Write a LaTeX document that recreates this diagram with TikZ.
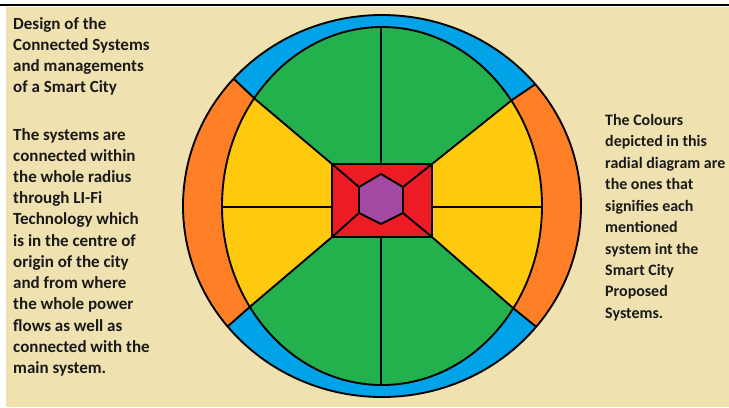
\documentclass[tikz,border=0pt]{standalone}
\usepackage{fontspec}
\setmainfont{Carlito}
\definecolor{bg}{RGB}{239,226,176}
\definecolor{cblue}{RGB}{0,162,232}
\definecolor{corange}{RGB}{255,127,39}
\definecolor{cgreen}{RGB}{34,177,76}
\definecolor{cyellow}{RGB}{255,201,14}
\definecolor{cred}{RGB}{237,28,36}
\definecolor{cpurple}{RGB}{163,73,164}
\definecolor{ctext}{RGB}{25,25,25}
\tikzset{
  edge/.style={draw=black,line width=1.6pt,line join=round},
  txt/.style={anchor=north west,inner sep=0pt,align=left,text=ctext,
    font=\fontsize{14.5}{18.1}\selectfont\bfseries},
  txtr/.style={txt,font=\fontsize{13.6}{18.3}\selectfont\bfseries}
}
\begin{document}
\begin{tikzpicture}[x=0.03cm,y=-0.03cm]
\useasboundingbox (0,0) rectangle (729,407);
\fill[white] (0,0) rectangle (729,407);
\fill[bg] (6,7) rectangle (729,407);
\draw[line width=1.4pt] (0,5) -- (729,5);
% key points
\coordinate (c) at (382,206);
\coordinate (rTL) at (332,164);
\coordinate (rTR) at (432,164);
\coordinate (rBL) at (332,237);
\coordinate (rBR) at (432,237);
\coordinate (iTL) at (255,99);
\coordinate (iBL) at (252,305);
\coordinate (iTR) at (512,100);
\coordinate (iBR) at (513,308);
\coordinate (eTL) at (225,70.5);
\coordinate (eBL) at (214.5,338);
\coordinate (eTR) at (549.5,74.5);
\coordinate (eBR) at (552,339.5);
\coordinate (hT) at (381,174);
\coordinate (hUR) at (403,187);
\coordinate (hLR) at (403,213);
\coordinate (hB) at (381,224);
\coordinate (hLL) at (359,213);
\coordinate (hUL) at (359,187);
% outer ring
\fill[cblue] (c) ellipse [x radius=199, y radius=191];
\begin{scope}
\clip (c) ellipse [x radius=199, y radius=191];
\fill[corange] (iTL) -- (eTL) -- (195,42) -- (100,42) -- (100,380) -- (177,371) -- (eBL) -- (iBL) -- cycle;
\fill[corange] (iTR) -- (eTR) -- (587,49) -- (680,49) -- (680,370) -- (591,371) -- (eBR) -- (iBR) -- cycle;
\end{scope}
% inner disc
\fill[cgreen] (c) ellipse [x radius=160, y radius=179];
\begin{scope}
\clip (c) ellipse [x radius=160, y radius=179];
\fill[cyellow] (rTL) -- (iTL) -- (178,34) -- (100,34) -- (100,380) -- (172,373) -- (iBL) -- (rBL) -- cycle;
\fill[cyellow] (rTR) -- (iTR) -- (592,36) -- (680,36) -- (680,380) -- (594,379) -- (iBR) -- (rBR) -- cycle;
\end{scope}
\fill[cred] (rTL) rectangle (rBR);
\fill[cpurple] (hT) -- (hUR) -- (hLR) -- (hB) -- (hLL) -- (hUL) -- cycle;
% lines
\begin{scope}
\clip (c) ellipse [x radius=199, y radius=191];
\draw[edge] (rTL) -- (iTL) -- (eTL);
\draw[edge] (rBL) -- (iBL) -- (eBL);
\draw[edge] (rTR) -- (iTR) -- (eTR);
\draw[edge] (rBR) -- (iBR) -- (eBR);
\end{scope}
\coordinate (vT) at (381,27);
\coordinate (vB) at (381,385);
\coordinate (vRT) at (381,164);
\coordinate (vRB) at (381,237);
\coordinate (hL) at (222,207);
\coordinate (hR) at (542,207);
\coordinate (hRL) at (332,207);
\coordinate (hRR) at (432,207);
\draw[edge] (vT) -- (vRT);
\draw[edge] (vRB) -- (vB);
\draw[edge] (hL) -- (hRL);
\draw[edge] (hRR) -- (hR);
\draw[edge] (rTL) rectangle (rBR);
\draw[edge] (hT) -- (hUR) -- (hLR) -- (hB) -- (hLL) -- (hUL) -- cycle;
\draw[edge] (rTL) -- (hUL);
\draw[edge] (rTR) -- (hUR);
\draw[edge] (rBL) -- (hLL);
\draw[edge] (rBR) -- (hLR);
\draw[edge] (c) ellipse [x radius=160, y radius=179];
\draw[edge] (c) ellipse [x radius=199, y radius=191];
% texts
\node[txt] (t1) at (13,17) {Design of the\\Connected Systems\\and managements\\of a Smart City};
\node[txt] (t2) at (13,128) {The systems are\\connected within\\the whole radius\\through LI-Fi\\Technology which\\is in the centre of\\origin of the city\\and from where\\the whole power\\flows as well as\\connected with the\\main system.};
\node[txtr] (t3) at (605,114) {The Colours\\depicted in this\\radial diagram are\\the ones that\\signifies each\\mentioned\\system int the\\Smart City\\Proposed\\Systems.};
\end{tikzpicture}
\end{document}
